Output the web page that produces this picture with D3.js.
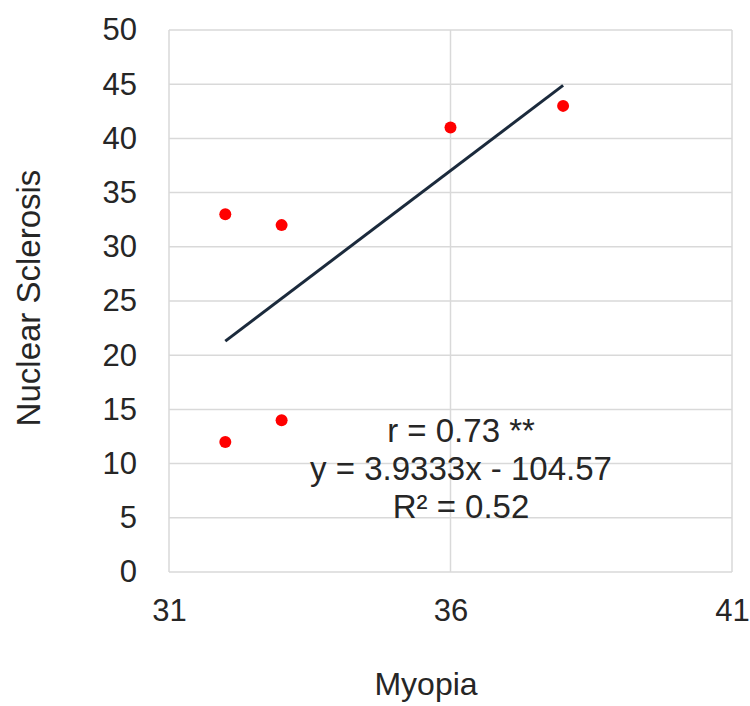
<!DOCTYPE html>
<html>
<head>
<meta charset="utf-8">
<script src="https://cdn.jsdelivr.net/npm/d3@7"></script>
<style>
  body { margin: 0; background: #fff; }
  text { font-family: "Liberation Sans", Arial, sans-serif; fill: #262626; }
</style>
</head>
<body>
<div id="chart-area"></div>
<script>
// data
const myopia = [32, 33, 32, 33, 36, 38]
const sclerosis = [33, 32, 12, 14, 41, 43]
const xTicks = [31, 36, 41]
const yTicks = [0, 5, 10, 15, 20, 25, 30, 35, 40, 45, 50]
const trendX = [32, 38]
const slope = 3.9333
const intercept = -104.57
const annotation = ["r = 0.73 **", "y = 3.9333x - 104.57", "R\u00b2 = 0.52"]

const MARGIN = { LEFT: 169, RIGHT: 18, TOP: 30, BOTTOM: 134 }
const WIDTH = 750 - MARGIN.LEFT - MARGIN.RIGHT
const HEIGHT = 706 - MARGIN.TOP - MARGIN.BOTTOM

const svg = d3.select("#chart-area").append("svg")
  .attr("width", WIDTH + MARGIN.LEFT + MARGIN.RIGHT)
  .attr("height", HEIGHT + MARGIN.TOP + MARGIN.BOTTOM)

const g = svg.append("g")
  .attr("transform", `translate(${MARGIN.LEFT}, ${MARGIN.TOP})`)

// Scales
const x = d3.scaleLinear()
  .domain([31, 41])
  .range([0, WIDTH])
const y = d3.scaleLinear()
  .domain([0, 50])
  .range([HEIGHT, 0])

// Gridlines
g.selectAll(".hgrid")
  .data(yTicks)
  .enter().append("line")
    .attr("class", "hgrid")
    .attr("x1", 0)
    .attr("x2", WIDTH)
    .attr("y1", d => y(d))
    .attr("y2", d => y(d))
    .attr("stroke", "#d9d9d9")
    .attr("stroke-width", 1.5)

g.selectAll(".vgrid")
  .data(xTicks)
  .enter().append("line")
    .attr("class", "vgrid")
    .attr("x1", d => x(d))
    .attr("x2", d => x(d))
    .attr("y1", 0)
    .attr("y2", HEIGHT)
    .attr("stroke", "#d9d9d9")
    .attr("stroke-width", 1.5)

// Axes (labels only)
const xAxisCall = d3.axisBottom(x)
  .tickValues(xTicks)
  .tickSize(0)
  .tickPadding(27)
g.append("g")
  .attr("class", "x axis")
  .attr("transform", `translate(0, ${HEIGHT})`)
  .call(xAxisCall)

const yAxisCall = d3.axisLeft(y)
  .tickValues(yTicks)
  .tickSize(0)
  .tickPadding(32)
g.append("g")
  .attr("class", "y axis")
  .call(yAxisCall)

svg.selectAll(".axis .domain").remove()
svg.selectAll(".axis text")
  .attr("font-size", "31px")
  .attr("fill", "#262626")
  .style("font-family", "'Liberation Sans', Arial, sans-serif")

// Trend line
const line = d3.line()
  .x(d => x(d))
  .y(d => y(slope * d + intercept))
g.append("path")
  .datum(trendX)
  .attr("d", line)
  .attr("fill", "none")
  .attr("stroke", "#1b2a3c")
  .attr("stroke-width", 3)

// Points
g.selectAll("circle")
  .data(myopia)
  .enter().append("circle")
    .attr("cx", d => x(d))
    .attr("cy", (d, i) => y(sclerosis[i]))
    .attr("r", 6)
    .attr("fill", "#ff0000")

// Annotation
g.selectAll(".note")
  .data(annotation)
  .enter().append("text")
    .attr("class", "note")
    .attr("x", 292)
    .attr("y", (d, i) => 412 + i * 38)
    .attr("text-anchor", "middle")
    .attr("font-size", "33px")
    .text(d => d)

// Labels
svg.append("text")
  .attr("x", 426)
  .attr("y", 695)
  .attr("text-anchor", "middle")
  .attr("font-size", "32px")
  .text("Myopia")
svg.append("text")
  .attr("transform", "rotate(-90)")
  .attr("x", -298)
  .attr("y", 40)
  .attr("text-anchor", "middle")
  .attr("font-size", "33px")
  .text("Nuclear Sclerosis")
</script>
</body>
</html>
